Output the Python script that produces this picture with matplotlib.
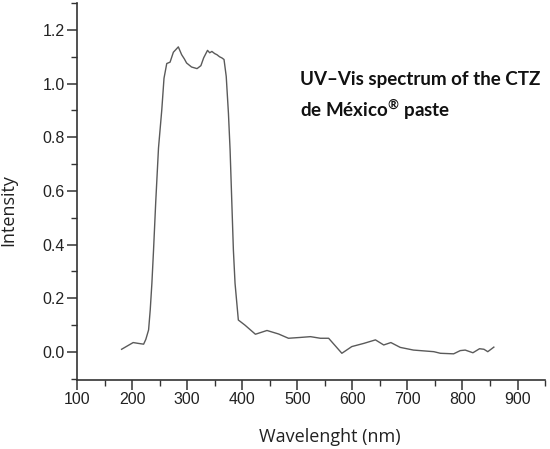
import matplotlib
matplotlib.use('Agg')
import matplotlib.pyplot as plt
from matplotlib.ticker import MultipleLocator

# Spectrum
wavelength = [181, 202, 211, 221, 225, 230, 233, 236, 239, 243, 248, 254, 258,
              263, 269, 275, 280, 284, 290, 295, 299, 308, 318, 325, 330, 337,
              341, 345, 350, 354, 359, 363, 367, 371, 375, 378, 384, 387, 393,
              405, 424, 445, 466, 484, 505, 524, 542, 557, 581, 599, 621, 642,
              657, 670, 687, 711, 748, 760, 784, 796, 805, 819, 831, 839, 846,
              857]
intensity = [0.010, 0.035, 0.032, 0.029, 0.047, 0.082, 0.157, 0.256, 0.380,
             0.560, 0.760, 0.903, 1.020, 1.075, 1.080, 1.117, 1.128, 1.137,
             1.108, 1.092, 1.077, 1.062, 1.056, 1.067, 1.096, 1.124, 1.115,
             1.120, 1.112, 1.108, 1.100, 1.096, 1.090, 1.027, 0.890, 0.754,
             0.380, 0.256, 0.119, 0.100, 0.066, 0.080, 0.067, 0.051, 0.054,
             0.057, 0.051, 0.051, -0.005, 0.020, 0.032, 0.045, 0.026, 0.035,
             0.017, 0.007, 0.001, -0.005, -0.007, 0.005, 0.007, -0.003, 0.012,
             0.010, 0.001, 0.018]

x_ticks = [100, 200, 300, 400, 500, 600, 700, 800, 900]
y_ticks = [0.0, 0.2, 0.4, 0.6, 0.8, 1.0, 1.2]

fig = plt.figure(figsize=(5.5, 4.49), dpi=100)
ax = fig.add_axes([0.14, 0.154, 0.851, 0.839])

ax.plot(wavelength, intensity, color="#5a5a5a", linewidth=1.0)

ax.set_xlim(100, 950)
ax.set_ylim(-0.104, 1.30)
ax.set_xticks(x_ticks)
ax.set_yticks(y_ticks)
ax.set_yticklabels([f"{v:.1f}" for v in y_ticks])
ax.xaxis.set_minor_locator(MultipleLocator(50))
ax.yaxis.set_minor_locator(MultipleLocator(0.1))

for side in ("top", "right"):
    ax.spines[side].set_visible(False)
for side in ("left", "bottom"):
    ax.spines[side].set_color("#333333")
    ax.spines[side].set_linewidth(1.2)

ax.tick_params(which="major", direction="out", length=7, width=1.1,
               color="#333333", labelsize=11.5, labelcolor="#222222", pad=2)
ax.tick_params(which="minor", direction="out", length=4, width=1.0,
               color="#333333")
for lab in ax.get_xticklabels() + ax.get_yticklabels():
    lab.set_family("Liberation Sans")

ax.set_xlabel("Wavelenght (nm)", fontsize=13, family="Open Sans",
              color="#222222")
ax.set_ylabel("Intensity", fontsize=13, family="Open Sans",
              color="#222222")
ax.xaxis.set_label_coords(0.54, -0.128)
ax.yaxis.set_label_coords(-0.127, 0.45)

fig.text(0.545, 0.786,
         "UV\u2013Vis spectrum of the CTZ\nde México$^{\\mathregular{®}}$ paste",
         fontsize=13.5, fontweight="bold", family="Lato", color="#111111",
         ha="left", va="center", linespacing=1.45)

fig.savefig("out.png", dpi=100)
